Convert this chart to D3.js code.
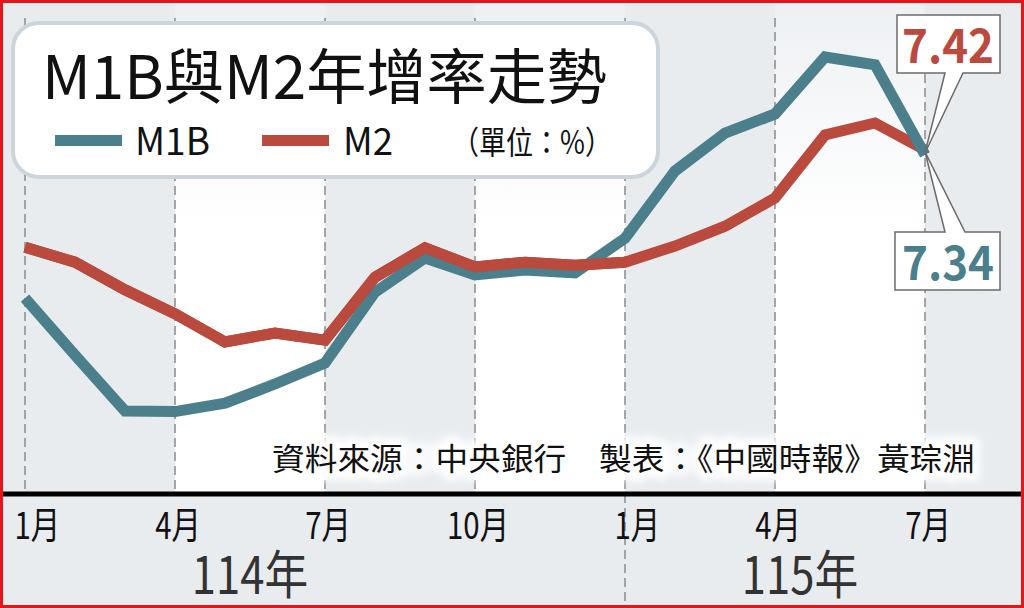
<!DOCTYPE html>
<html>
<head>
<meta charset="utf-8">
<script src="https://cdn.jsdelivr.net/npm/d3@7/dist/d3.min.js"></script>
<style>
html,body{margin:0;padding:0;background:#fff;}
svg{display:block;}
text{font-family:"Noto Sans CJK TC","Noto Sans",sans-serif;}
</style>
</head>
<body>
<svg id="chart" width="1024" height="608"></svg>
<script>
// ---- data ----
const months = ["1月","2月","3月","4月","5月","6月","7月","8月","9月","10月","11月","12月",
                "1月","2月","3月","4月","5月","6月","7月"];
const m1b = [4.95,4.00,3.07,3.06,3.20,3.52,3.87,5.05,5.62,5.34,5.42,5.37,5.95,7.07,7.70,8.02,8.97,8.84,7.34];
const m2  = [5.80,5.55,5.09,4.69,4.22,4.37,4.25,5.30,5.79,5.47,5.55,5.50,5.55,5.82,6.15,6.62,7.67,7.87,7.42];
const tickIdx = [0,3,6,9,12,15,18];
const tickLabels = ["1月","4月","7月","10月","1月","4月","7月"];
const years = [{label:"114年", mid:4.5},{label:"115年", mid:15.5}];
const seriesNames = ["M1B","M2"];
const title = "M1B與M2年增率走勢";
const unit = "（單位：%）";
const source = "資料來源：中央銀行　製表：《中國時報》黃琮淵";

const W = 1024, H = 608;
const cTeal = "#4a7f8b", cRed = "#b94a3d", cGray = "#e8ecef";
const axisY = 494;

const svg = d3.select("#chart");
const defs = svg.append("defs");
const grad = defs.append("linearGradient").attr("id","wg").attr("x1",0).attr("y1",0).attr("x2",0).attr("y2",1);
grad.append("stop").attr("offset","0%").attr("stop-color","#edf0f3");
grad.append("stop").attr("offset","45%").attr("stop-color","#ffffff");
grad.append("stop").attr("offset","100%").attr("stop-color","#ffffff");
const blur = defs.append("filter").attr("id","glow").attr("x","-10%").attr("y","-50%").attr("width","120%").attr("height","200%");
blur.append("feGaussianBlur").attr("stdDeviation",4);

const x = d3.scaleLinear().domain([0,18]).range([25,925]);
const y = d3.scaleLinear().domain([2,8]).range([475.2,115.2]);

// background
svg.append("rect").attr("width",W).attr("height",H).attr("fill",cGray);
[[3,6],[9,12],[15,18]].forEach(b=>{
  svg.append("rect").attr("x",x(b[0])).attr("y",0).attr("width",x(b[1])-x(b[0])).attr("height",axisY)
    .attr("fill","url(#wg)");
});

// dashed grid lines
svg.append("g").selectAll("line").data(tickIdx).join("line")
  .attr("x1",d=>x(d)).attr("x2",d=>x(d)).attr("y1",18).attr("y2",d=>d===12?H:axisY)
  .attr("stroke","#8a8a8a").attr("stroke-width",1.5).attr("stroke-dasharray","9,5");

// title box
svg.append("rect").attr("x",13).attr("y",23).attr("width",645).attr("height",154).attr("rx",26)
  .attr("fill","#fff").attr("stroke","#cbd5db").attr("stroke-width",4);
svg.append("text").attr("x",42).attr("y",99).attr("font-size",60).attr("font-weight",400)
  .attr("textLength",565).attr("lengthAdjust","spacingAndGlyphs").attr("fill","#111").text(title);

// legend
const lg = [{name:seriesNames[0],c:cTeal,x:55,tx:135,tw:75},{name:seriesNames[1],c:cRed,x:262,tx:343,tw:50}];
lg.forEach(l=>{
  svg.append("rect").attr("x",l.x).attr("y",135).attr("width",67).attr("height",11).attr("fill",l.c);
  svg.append("text").attr("x",l.tx).attr("y",155).attr("font-size",38).attr("fill","#111")
    .attr("textLength",l.tw).attr("lengthAdjust","spacingAndGlyphs").text(l.name);
});
svg.append("text").attr("x",452).attr("y",154).attr("font-size",32).attr("fill","#111")
  .attr("textLength",160).attr("lengthAdjust","spacingAndGlyphs").text(unit);

// source with white glow
const src = svg.append("g");
src.append("text").attr("x",272).attr("y",470).attr("font-size",31).attr("textLength",703)
  .attr("lengthAdjust","spacingAndGlyphs").attr("fill","#fff").attr("stroke","#fff").attr("stroke-width",14)
  .attr("filter","url(#glow)").text(source);
src.append("text").attr("x",272).attr("y",470).attr("font-size",31).attr("textLength",703)
  .attr("lengthAdjust","spacingAndGlyphs").attr("fill","#111").text(source);

// lines
const line = d3.line().x((d,i)=>x(i)).y(d=>y(d));
const lineFirst = d3.line().defined((d,i)=>i<=12).x((d,i)=>x(i)).y(d=>y(d));
const lstyle = p => p.attr("fill","none").attr("stroke-width",11)
  .attr("stroke-linejoin","miter").attr("stroke-miterlimit",3);
svg.append("path").datum(m2).attr("d",line).attr("stroke",cRed).call(lstyle);
svg.append("path").datum(m1b).attr("d",line).attr("stroke",cTeal).call(lstyle);
svg.append("path").datum(m2).attr("d",lineFirst).attr("stroke",cRed).call(lstyle);

// callouts
const last = 18;
const tx = x(last);
const tyR = y(m2[last]), tyT = y(m1b[last]);
svg.append("path")
  .attr("d",`M897,15 H1000 V73 H963 L${tx},${tyR+3} L945,73 H897 Z`)
  .attr("fill","#fff").attr("stroke","#6b6b6b").attr("stroke-width",1.5);
svg.append("path")
  .attr("d",`M895,232 H945 L${tx},${tyT-3} L965,232 H1000 V290 H895 Z`)
  .attr("fill","#fff").attr("stroke","#6b6b6b").attr("stroke-width",1.5);
svg.append("text").attr("x",948).attr("y",63).attr("text-anchor","middle").attr("font-size",47)
  .attr("font-weight",700).attr("fill",cRed).attr("textLength",92).attr("lengthAdjust","spacingAndGlyphs")
  .text(d3.format(".2f")(m2[last]));
svg.append("text").attr("x",948).attr("y",280).attr("text-anchor","middle").attr("font-size",47)
  .attr("font-weight",700).attr("fill",cTeal).attr("textLength",92).attr("lengthAdjust","spacingAndGlyphs")
  .text(d3.format(".2f")(m1b[last]));

// axis line
svg.append("line").attr("x1",3).attr("x2",W-3).attr("y1",axisY).attr("y2",axisY)
  .attr("stroke","#000").attr("stroke-width",5);

// x axis labels
const ax = svg.append("g").attr("transform",`translate(0,${axisY})`)
  .call(d3.axisBottom(x).tickValues(tickIdx).tickSize(0).tickPadding(0)
    .tickFormat(d=>tickLabels[tickIdx.indexOf(d)]));
ax.select(".domain").remove();
ax.selectAll(".tick text")
  .attr("font-size",35).attr("fill","#111").attr("y",42).attr("dy",null)
  .attr("x",(d)=>tickLabels[tickIdx.indexOf(d)]==="1月"?14:3)
  .attr("transform","scale(0.84,1.06)")
  .style("font-family",'"Noto Sans CJK TC",sans-serif');

// year labels
svg.append("g").selectAll("text").data(years).join("text")
  .attr("transform",d=>`translate(${x(d.mid)},594) scale(0.84,1)`)
  .attr("text-anchor","middle").attr("font-size",52)
  .attr("fill","#333").text(d=>d.label);

// red frame
svg.append("rect").attr("x",1.5).attr("y",1.5).attr("width",W-3).attr("height",H-3)
  .attr("fill","none").attr("stroke","#e8141b").attr("stroke-width",3);
</script>
</body>
</html>
